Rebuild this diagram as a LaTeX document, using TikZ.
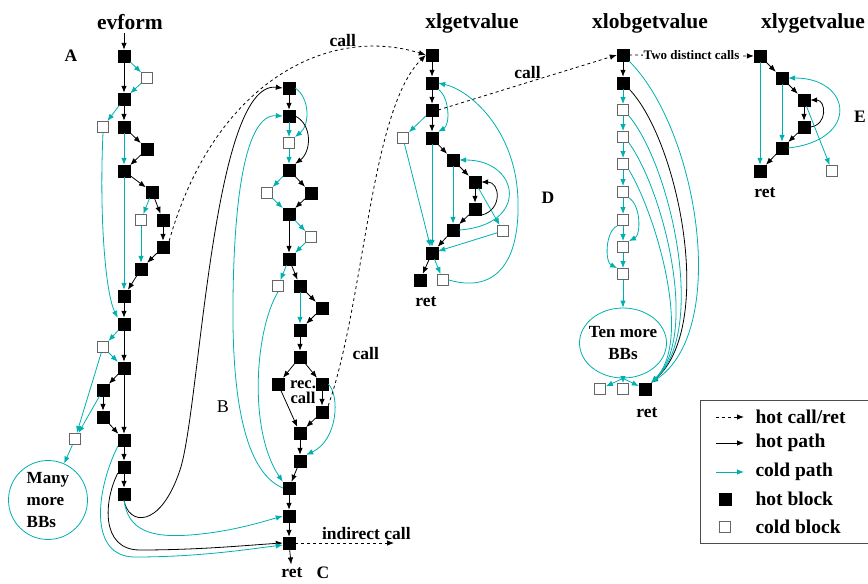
\documentclass[tikz,border=0pt]{standalone}
\usepackage{fontspec}
\setmainfont{Liberation Serif}
\usepackage{tikz}
\usetikzlibrary{shapes,arrows.meta,positioning,calc}
\definecolor{coldc}{RGB}{0,176,176}

\begin{document}
\begin{tikzpicture}[x=1pt, y=-1pt, >={Latex[length=7pt,width=5.5pt]},
  hotblk/.style={draw, fill=black, rectangle, minimum size=12pt, inner sep=0pt},
  coldblk/.style={draw=black!60, fill=white, rectangle, minimum size=11pt, inner sep=0pt, line width=0.9pt},
  hotpath/.style={->, line width=0.8pt},
  coldpath/.style={->, coldc, line width=0.8pt},
  hotcall/.style={->, dashed, line width=0.8pt},
  ttl/.style={font=\bfseries\fontsize{21.5}{24}\selectfont},
  lbl/.style={font=\bfseries\fontsize{17.5}{15}\selectfont},
  leg/.style={font=\bfseries\fontsize{19.5}{22}\selectfont, anchor=west}]
\useasboundingbox (0,0) rectangle (868,584);

% 标题
\node[ttl] (evf) at (130,22) {evform};
\node[ttl] (xlg) at (472,23) {xlgetvalue};
\node[ttl] (xlob) at (650,23) {xlobgetvalue};
\node[ttl] (xly) at (813,23) {xlygetvalue};

% 区域标记
\node[lbl] (la) at (71,56) {A};
\node[font=\fontsize{18}{20}\selectfont] (lb) at (223,407) {B};
\node[lbl] (lc) at (323,573) {C};
\node[lbl] (ld) at (548,198) {D};
\node[lbl] (le) at (860,117) {E};

% evform 基本块
\node[hotblk] (e1) at (124,56) {};
\node[coldblk] (e1c) at (147,78) {};
\node[hotblk] (e2) at (124,99) {};
\node[coldblk] (e2c) at (103,127) {};
\node[hotblk] (e3) at (124,127) {};
\node[hotblk] (e4) at (147,149) {};
\node[hotblk] (e5) at (124,171) {};
\node[hotblk] (e6) at (152,192) {};
\node[coldblk] (e7) at (141,220) {};
\node[hotblk] (e8) at (163,220) {};
\node[hotblk] (e9) at (163,247) {};
\node[hotblk] (e10) at (141,269) {};
\node[hotblk] (e11) at (124,296) {};
\node[hotblk] (e12) at (124,324) {};
\node[coldblk] (e12c) at (103,347) {};
\node[hotblk] (e13) at (124,368) {};
\node[hotblk] (e14) at (103,390) {};
\node[hotblk] (e15) at (103,417) {};
\node[coldblk] (e16c) at (75,439) {};
\node[hotblk] (e16) at (124,440) {};
\node[hotblk] (e17) at (124,467) {};
\node[hotblk] (e18) at (124,494) {};
\node[draw=coldc, line width=0.8pt, circle, minimum size=79pt, inner sep=0pt] (many) at (48,500) {};
\node[align=left, font=\bfseries\fontsize{17}{22}\selectfont] (manyt) at (many) {Many\\more\\BBs};

% B 部分
\node[hotblk] (b1) at (289,88) {};
\node[hotblk] (b2) at (289,116) {};
\node[coldblk] (b3) at (289,143) {};
\node[hotblk] (b4) at (289,170) {};
\node[coldblk] (b5) at (267,193) {};
\node[hotblk] (b6) at (311,193) {};
\node[hotblk] (b7) at (289,214) {};
\node[coldblk] (b8) at (311,237) {};
\node[hotblk] (b9) at (289,259) {};
\node[coldblk] (b10) at (278,286) {};
\node[hotblk] (b11) at (300,286) {};
\node[hotblk] (b12) at (322,308) {};
\node[hotblk] (b13) at (300,330) {};
\node[hotblk] (b14) at (300,357) {};
\node[hotblk] (b15) at (278,384) {};
\node[hotblk] (b16) at (322,384) {};
\node[hotblk] (b17) at (322,412) {};
\node[hotblk] (b18) at (300,433) {};
\node[hotblk] (b19) at (300,461) {};
\node[hotblk] (b20) at (289,488) {};
\node[hotblk] (c1) at (289,516) {};
\node[hotblk] (c2) at (289,543) {};
\node[lbl] (cret) at (292,573) {ret};
\node[align=center, inner sep=0pt, font=\bfseries\fontsize{16.5}{15.5}\selectfont] (rec) at (303,392) {rec.\\call};
\coordinate (ind) at (394,543);

% xlgetvalue
\node[hotblk] (x1) at (432,55) {};
\node[hotblk] (x2) at (432,83) {};
\node[hotblk] (x3) at (432,110) {};
\node[coldblk] (x3c) at (403,138) {};
\node[hotblk] (x4) at (432,138) {};
\node[hotblk] (x5) at (453,160) {};
\node[hotblk] (x6) at (475,182) {};
\node[hotblk] (x7) at (475,209) {};
\node[hotblk] (x8) at (453,230) {};
\node[coldblk] (x8c) at (503,231) {};
\node[hotblk] (x9) at (432,253) {};
\node[hotblk] (x10) at (420,280) {};
\node[coldblk] (x10c) at (443,280) {};
\node[lbl] (xret) at (426,302) {ret};

% xlobgetvalue
\node[hotblk] (l1) at (623,55) {};
\node[hotblk] (l2) at (623,83) {};
\node[coldblk] (l3) at (623,110) {};
\node[coldblk] (l4) at (623,137) {};
\node[coldblk] (l5) at (623,164) {};
\node[coldblk] (l6) at (623,192) {};
\node[coldblk] (l7) at (623,220) {};
\node[coldblk] (l8) at (623,247) {};
\node[coldblk] (l9) at (623,274) {};
\node[draw=coldc, line width=0.8pt, ellipse, minimum width=87pt, minimum height=70pt, inner sep=0pt] (ten) at (623,343) {};
\node[align=center, font=\bfseries\fontsize{17}{22}\selectfont] (tent) at (ten) {Ten more\\BBs};
\node[coldblk] (l10) at (600,389) {};
\node[coldblk] (l11) at (623,389) {};
\node[hotblk] (l12) at (645,389) {};
\node[lbl] (lret) at (647,413) {ret};

% xlygetvalue
\node[hotblk] (y1) at (760,56) {};
\node[hotblk] (y2) at (782,78) {};
\node[hotblk] (y3) at (804,100) {};
\node[hotblk] (y4) at (804,127) {};
\node[hotblk] (y5) at (782,148) {};
\node[hotblk] (y6) at (760,171) {};
\node[coldblk] (y6c) at (832,171) {};
\node[lbl] (yret) at (765,193) {ret};

% evform 连接
\draw[hotpath] (e1 |- evf.south) -- (e1);
\draw[hotpath] (e1) -- (e2);
\draw[coldpath] (e1) -- (e1c);
\draw[coldpath] (e1c) -- (e2);
\draw[hotpath] (e2) -- (e3);
\draw[coldpath] (e2) -- (e2c);
\draw[coldpath] (e2c.south) .. controls (99,220) and (106,295) .. (e12.north west);
\draw[hotpath] (e3) -- (e4);
\draw[hotpath] (e4) -- (e5);
\draw[coldpath] (e3) -- (e5);
\draw[hotpath] (e5) -- (e6);
\draw[coldpath] (e5) -- (e11);
\draw[coldpath] (e6) -- (e7);
\draw[hotpath] (e6) -- (e8);
\draw[hotpath] (e8) -- (e9);
\draw[coldpath] (e7) -- (e10);
\draw[hotpath] (e9) -- (e10);
\draw[hotpath] (e10) -- (e11);
\draw[hotpath] (e11) -- (e12);
\draw[coldpath] (e12) -- (e12c);
\draw[coldpath] (e12c) -- (e13);
\draw[hotpath] (e12) -- (e13);
\draw[hotpath] (e13) -- (e14);
\draw[hotpath] (e13) -- (e16);
\draw[hotpath] (e14) -- (e15);
\draw[hotpath] (e15) -- (e16);
\draw[coldpath] (e12c) -- (e16c);
\draw[coldpath] (e14) -- (e16c);
\draw[coldpath] (e16c) -- (many);
\draw[hotpath] (e16) -- (e17);
\draw[hotpath] (e17) -- (e18);
\draw[hotpath] (e18.south) .. controls (128,525) and (160,530) .. (180,470) .. controls (200,410) and (212,80) .. (b1.west);
\draw[coldpath] (e18.south) .. controls (128,530) and (150,538) .. (190,535) .. controls (230,532) and (262,522) .. (c1.west);
\draw[hotpath] (e17.south west) .. controls (104,500) and (100,550) .. (140,550) .. controls (200,550) and (250,545) .. (c2.west);
\draw[coldpath] (e16.south west) .. controls (96,490) and (88,557) .. (135,557) .. controls (200,557) and (250,549) .. ([yshift=-2pt]c2.west);
\draw[hotcall] (e9.north east) .. controls (215,80) and (330,25) .. (x1.west) node[pos=0.72, above, lbl] {call};

% B 连接
\draw[hotpath] (b1) -- (b2);
\draw[coldpath] (b1.east) .. controls (310,98) and (310,125) .. (b3.north east);
\draw[coldpath] (b2) -- (b3);
\draw[hotpath] (b2.east) .. controls (313,125) and (311,152) .. (b4.north east);
\draw[coldpath] (b3) -- (b4);
\draw[coldpath] (b4) -- (b5);
\draw[hotpath] (b4) -- (b6);
\draw[coldpath] (b5) -- (b7);
\draw[hotpath] (b6) -- (b7);
\draw[hotpath] (b7) -- (b9);
\draw[coldpath] (b7) -- (b8);
\draw[coldpath] (b8) -- (b9);
\draw[coldpath] (b9) -- (b10);
\draw[hotpath] (b9) -- (b11);
\draw[hotpath] (b11) -- (b12);
\draw[coldpath] (b11) -- (b13);
\draw[hotpath] (b12) -- (b13);
\draw[hotpath] (b13) -- (b14);
\draw[hotpath] (b14) -- (b15);
\draw[hotpath] (b14) -- (b16);
\draw[hotpath] (b15) -- (b18);
\draw[hotpath] (b16) -- (b17);
\draw[hotpath] (b17) -- (b18);
\draw[coldpath] (b16.east) .. controls (340,395) and (338,440) .. (b19.north east);
\draw[hotpath] (b18) -- (b19);
\draw[hotpath] (b19) -- (b20);
\draw[coldpath] (b10.south) .. controls (255,330) and (248,430) .. (b20.north west);
\draw[coldpath] (b20.west) .. controls (240,470) and (232,380) .. (233,300) .. controls (234,200) and (245,114) .. (b2.west);
\draw[hotpath] (b20) -- (c1);
\draw[hotpath] (c1) -- (c2);
\draw[hotpath] (c2) -- (cret);
\draw[hotcall] (c2) -- (ind) node[pos=0.72, above, lbl] {indirect call};
\draw[hotcall] (b17.north east) .. controls (365,300) and (370,110) .. (x1.west) node[pos=0.15, right=6pt, lbl] {call};

% D 连接
\draw[hotpath] (x1) -- (x2);
\draw[hotpath] (x2) -- (x3);
\draw[hotpath] (x3) -- (x4);
\draw[coldpath] (x2.south east) .. controls (450,98) and (450,125) .. (x4.north east);
\draw[coldpath] (x3) -- (x3c);
\draw[hotpath] (x4) -- (x5);
\draw[coldpath] (x4) -- (x9);
\draw[coldpath] (x3c) -- (x9);
\draw[hotpath] (x5) -- (x6);
\draw[coldpath] (x5) -- (x8);
\draw[hotpath] (x6) -- (x7);
\draw[hotpath] (x7.south east) .. controls (503,210) and (500,182) .. (x6.east);
\draw[coldpath] (x6) -- (x8c);
\draw[hotpath] (x7) -- (x8);
\draw[coldpath] (x8.east) .. controls (530,225) and (520,160) .. (x5.east);
\draw[coldpath] (x8c) -- (x9);
\draw[hotpath] (x8) -- (x9);
\draw[hotpath] (x9) -- (x10);
\draw[coldpath] (x9) -- (x10c);
\draw[coldpath] (x10c.east) .. controls (490,292) and (520,270) .. (518,200) .. controls (516,130) and (470,90) .. (x2.east);
\draw[hotcall] (x3.east) -- (l1.west) node[midway, above, lbl] {call};

% xlobgetvalue 连接
\draw[hotpath] (l1) -- (l2);
\draw[coldpath] (l2) -- (l3);
\draw[coldpath] (l3) -- (l4);
\draw[coldpath] (l4) -- (l5);
\draw[coldpath] (l5) -- (l6);
\draw[coldpath] (l6) -- (l7);
\draw[coldpath] (l7) -- (l8);
\draw[coldpath] (l8) -- (l9);
\draw[coldpath] (l6.south east) .. controls (641,205) and (641,235) .. (l8.north east);
\draw[coldpath] (l7.south west) .. controls (605,232) and (605,262) .. (l9.north west);
\draw[coldpath] (l9) -- (ten);
\draw[coldpath] (ten.south) -- (l10);
\draw[coldpath] (ten.south) -- (l11);
\draw[coldpath] (ten.south) -- (l12);
\draw[coldpath] (l1.south east) .. controls (698,130) and (730,330) .. (l12.north east);
\draw[hotpath] (l2.south east) .. controls (678,140) and (716,325) .. (l12.north east);
\draw[coldpath] (l3.south east) .. controls (670,165) and (708,330) .. (l12.north east);
\draw[coldpath] (l4.south east) .. controls (663,190) and (700,335) .. (l12.north east);
\draw[coldpath] (l5.south east) .. controls (656,215) and (693,340) .. (l12.north east);
\draw[hotcall] (l1.east) -- (y1.west) node[midway, fill=white, inner sep=1pt, font=\bfseries\fontsize{13}{15}\selectfont] {Two distinct calls};

% xlygetvalue 连接
\draw[hotpath] (y1) -- (y2);
\draw[hotpath] (y2) -- (y3);
\draw[hotpath] (y3) -- (y4);
\draw[hotpath] (y4) -- (y5);
\draw[hotpath] (y5) -- (y6);
\draw[coldpath] (y1) -- (y6);
\draw[coldpath] (y2) -- (y5);
\draw[hotpath] (y4.east) .. controls (828,125) and (826,100) .. (y3.east);
\draw[coldpath] (y3) -- (y6c);
\draw[coldpath] (y5.east) .. controls (860,140) and (852,78) .. (y2.east);

% 图例
\draw[black!70, line width=0.8pt] (700,400) rectangle (880,543);
\node[leg] (lg1) at (752,417) {hot call/ret};
\node[leg] (lg2) at (752,443) {hot path};
\node[leg] (lg3) at (752,472) {cold path};
\node[leg] (lg4) at (752,499) {hot block};
\node[leg] (lg5) at (752,527) {cold block};
\draw[hotcall] ([xshift=-36pt]lg1.west) -- ([xshift=-8pt]lg1.west);
\draw[hotpath] ([xshift=-36pt]lg2.west) -- ([xshift=-8pt]lg2.west);
\draw[coldpath] ([xshift=-36pt]lg3.west) -- ([xshift=-8pt]lg3.west);
\node[hotblk] (lgh) at (725,499) {};
\node[coldblk] (lgc) at (725,527) {};
\end{tikzpicture}
\end{document}
